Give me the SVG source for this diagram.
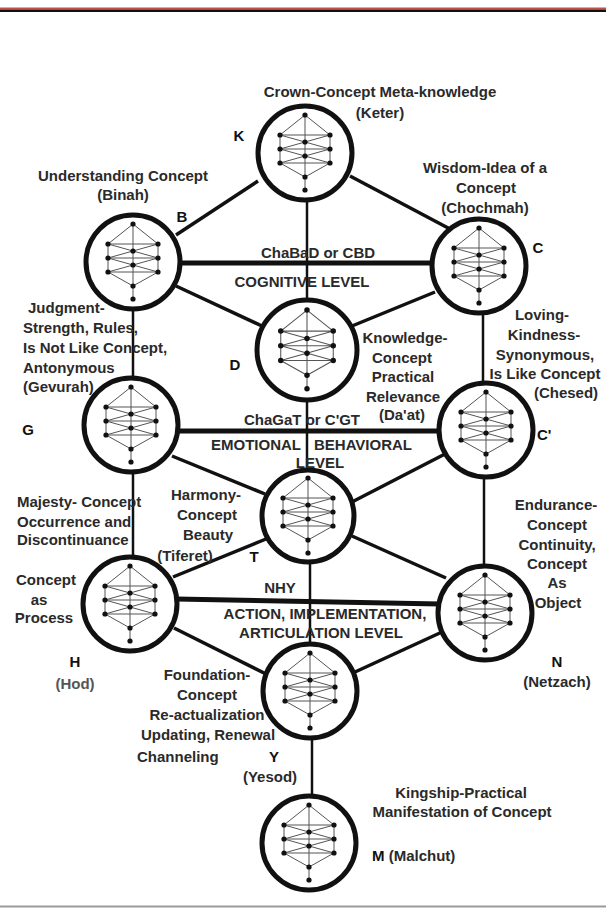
<svg xmlns="http://www.w3.org/2000/svg" xmlns:xlink="http://www.w3.org/1999/xlink" width="606" height="909" viewBox="0 0 606 909">
<style>
.t{font-family:"Liberation Sans",Arial,sans-serif;font-weight:bold;font-size:15px;fill:#2a2a2a;text-anchor:middle}
.l{font-family:"Liberation Sans",Arial,sans-serif;font-weight:bold;font-size:15px;fill:#111;text-anchor:middle}
.s{text-anchor:start}
.g{fill:#555}
.ring{fill:#fff;stroke:#111;stroke-width:5}
.c line{stroke:#111;stroke-linecap:butt}
.d{stroke-width:3.5}
.h{stroke-width:5}
.v{stroke-width:2.5}
</style>
<defs>
<g id="mt">
<path d="M0,-38 V37 M0,-38 L-25,-18 M0,-38 L25,-18 M-25,-18 H25 M-25,-4 H25 M-25,10 H25 M-25,-18 V10 M25,-18 V10 M-25,-18 L25,-4 M25,-18 L-25,-4 M-25,-4 L25,10 M25,-4 L-25,10 M-25,10 L0,24 M25,10 L0,24" fill="none" stroke="#555" stroke-width="1"/>
<g fill="#111">
<circle cx="0" cy="-38" r="2.6"/><circle cx="-25" cy="-18" r="2.6"/><circle cx="25" cy="-18" r="2.6"/>
<circle cx="-25" cy="-4" r="2.6"/><circle cx="25" cy="-4" r="2.6"/><circle cx="-25" cy="10" r="2.6"/><circle cx="25" cy="10" r="2.6"/>
<circle cx="0" cy="-11" r="2.6"/><circle cx="0" cy="3" r="2.6"/><circle cx="0" cy="24" r="2.6"/><circle cx="0" cy="37" r="2.6"/>
</g>
</g>
</defs>
<rect x="0" y="0" width="606" height="909" fill="#fff"/>
<rect x="0" y="7.5" width="606" height="2" fill="#c0504d"/>
<rect x="0" y="9.5" width="606" height="2.5" fill="#111"/>
<rect x="0" y="905.5" width="606" height="2" fill="#9a9a9a"/>

<g id="connectors" class="c">
<line class="d" x1="258" y1="181" x2="176" y2="235"/>
<line class="d" x1="350" y1="176" x2="450" y2="229"/>
<line class="h" x1="178" y1="263" x2="434" y2="263"/>
<line class="d" x1="176" y1="286" x2="262" y2="326"/>
<line class="d" x1="352" y1="326" x2="435" y2="292"/>
<line class="v" x1="307" y1="195" x2="307" y2="302"/>
<line class="v" x1="133" y1="305" x2="133" y2="380"/>
<line class="v" x1="483" y1="310" x2="483" y2="385"/>
<line class="h" x1="175" y1="431" x2="442" y2="431"/>
<line class="d" x1="172" y1="456" x2="265" y2="494"/>
<line class="d" x1="350" y1="503" x2="445" y2="454"/>
<line class="v" x1="307" y1="398" x2="307" y2="470"/>
<line class="v" x1="133" y1="470" x2="133" y2="557"/>
<line class="v" x1="484" y1="476" x2="484" y2="566"/>
<line class="h" x1="176" y1="599" x2="440" y2="604"/>
<line class="d" x1="173" y1="577" x2="266" y2="539"/>
<line class="d" x1="352" y1="536" x2="446" y2="578"/>
<line class="v" x1="310" y1="562" x2="310" y2="645"/>
<line class="d" x1="174" y1="628" x2="266" y2="674"/>
<line class="d" x1="355" y1="672" x2="442" y2="632"/>
<line class="v" x1="312" y1="737" x2="312" y2="797"/>
</g>

<g id="node-K"><circle class="ring" cx="305" cy="153" r="47"/><use xlink:href="#mt" transform="translate(305,153)"/>
<text class="t" x="380" y="97">Crown-Concept Meta-knowledge</text><text class="t" x="380" y="118">(Keter)</text><text class="l" x="239" y="141">K</text></g>

<g id="node-B"><circle class="ring" cx="133" cy="262" r="47"/><use xlink:href="#mt" transform="translate(133,262)"/>
<text class="t" x="123" y="181">Understanding Concept</text><text class="t" x="123" y="200">(Binah)</text><text class="l" x="182" y="222">B</text></g>

<g id="node-C"><circle class="ring" cx="479" cy="266" r="47"/><use xlink:href="#mt" transform="translate(479,266)"/>
<text class="t" x="485" y="173">Wisdom-Idea of a</text><text class="t" x="486" y="193">Concept</text><text class="t" x="485" y="213">(Chochmah)</text><text class="l" x="538" y="253">C</text></g>

<g id="node-D"><circle class="ring" cx="307" cy="350" r="50"/><use xlink:href="#mt" transform="translate(307,350) scale(1.05)"/>
<text class="t" x="405" y="343">Knowledge-</text><text class="t" x="402" y="363">Concept</text><text class="t" x="403" y="382">Practical</text><text class="t" x="403" y="402">Relevance</text><text class="t" x="402" y="420">(Da'at)</text><text class="l" x="235" y="370">D</text></g>

<g id="node-G"><circle class="ring" cx="131" cy="425" r="47"/><use xlink:href="#mt" transform="translate(131,425)"/>
<text class="t s" x="28" y="313">Judgment-</text><text class="t s" x="23" y="333">Strength, Rules,</text><text class="t s" x="23" y="353">Is Not Like Concept,</text><text class="t s" x="23" y="373">Antonymous</text><text class="t s" x="23" y="392">(Gevurah)</text><text class="l" x="28" y="435">G</text></g>

<g id="node-Cp"><circle class="ring" cx="486" cy="430" r="47"/><use xlink:href="#mt" transform="translate(486,430)"/>
<text class="t" x="542" y="320">Loving-</text><text class="t" x="544" y="340">Kindness-</text><text class="t" x="545" y="360">Synonymous,</text><text class="t" x="545" y="379">Is Like Concept</text><text class="t" x="566" y="398">(Chesed)</text><text class="l s" x="537" y="440">C'</text></g>

<g id="node-T"><circle class="ring" cx="308" cy="516" r="46"/><use xlink:href="#mt" transform="translate(308,516)"/>
<text class="t" x="206" y="500">Harmony-</text><text class="t" x="207" y="520">Concept</text><text class="t" x="208" y="540">Beauty</text><text class="t" x="185" y="561">(Tiferet)</text><text class="l" x="254" y="562">T</text></g>

<g id="node-H"><circle class="ring" cx="130" cy="604" r="47"/><use xlink:href="#mt" transform="translate(130,604)"/>
<text class="t s" x="17" y="507">Majesty- Concept</text><text class="t s" x="17" y="527">Occurrence and</text><text class="t s" x="17" y="545">Discontinuance</text>
<text class="t" x="46" y="585">Concept</text><text class="t" x="39" y="605">as</text><text class="t" x="44" y="623">Process</text>
<text class="l" x="75" y="667">H</text><text class="t g" x="75" y="689">(Hod)</text></g>

<g id="node-N"><circle class="ring" cx="485" cy="613" r="47"/><use xlink:href="#mt" transform="translate(485,613)"/>
<text class="t" x="556" y="510">Endurance-</text><text class="t" x="557" y="530">Concept</text><text class="t" x="557" y="550">Continuity,</text><text class="t" x="557" y="569">Concept</text><text class="t" x="557" y="588">As</text><text class="t" x="558" y="608">Object</text>
<text class="l" x="557" y="667">N</text><text class="t" x="557" y="687">(Netzach)</text></g>

<g id="node-Y"><circle class="ring" cx="310" cy="691" r="47"/><use xlink:href="#mt" transform="translate(310,691)"/>
<text class="t" x="207" y="680">Foundation-</text><text class="t" x="207" y="700">Concept</text><text class="t" x="207" y="720">Re-actualization</text><text class="t" x="208" y="740">Updating, Renewal</text><text class="t s" x="137" y="762">Channeling</text>
<text class="l" x="274" y="762">Y</text><text class="t" x="270" y="782">(Yesod)</text></g>

<g id="node-M"><circle class="ring" cx="309" cy="843" r="47"/><use xlink:href="#mt" transform="translate(309,843)"/>
<text class="t" x="461" y="798">Kingship-Practical</text><text class="t" x="462" y="817">Manifestation of Concept</text>
<text class="l s" x="372" y="861">M <tspan fill="#2a2a2a">(Malchut)</tspan></text></g>

<g id="levels">
<text class="t" x="318" y="258">ChaBaD or CBD</text>
<text class="t" x="302" y="287">COGNITIVE LEVEL</text>
<text class="t" x="302" y="425">ChaGaT or C'GT</text>
<text class="t" y="450"><tspan x="256">EMOTIONAL</tspan><tspan x="363">BEHAVIORAL</tspan></text>
<text class="t" x="320" y="468">LEVEL</text>
<text class="t" x="280" y="593">NHY</text>
<text class="t" x="325" y="619">ACTION, IMPLEMENTATION,</text>
<text class="t" x="321" y="638">ARTICULATION LEVEL</text>
</g>
</svg>
